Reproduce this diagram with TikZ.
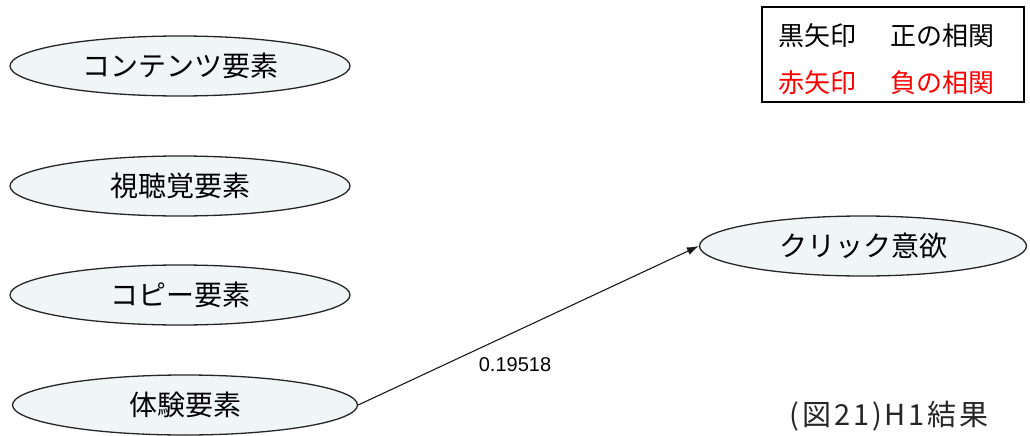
\documentclass[tikz,border=0pt]{standalone}
\usepackage{fontspec}
\setmainfont{Liberation Sans}
\newfontfamily\jpfont{Noto Sans CJK JP}
\newfontfamily\capfont[LetterSpace=10]{Noto Sans CJK JP}
\usetikzlibrary{shapes.geometric,arrows.meta}
\definecolor{ovalfill}{RGB}{239,246,245}
\definecolor{negred}{RGB}{255,0,0}
\begin{document}
\begin{tikzpicture}[x=1pt,y=-1pt,
  factor/.style={ellipse, draw=black!85, line width=1.3pt, fill=ovalfill,
    minimum width=340pt, minimum height=60pt, inner sep=0pt,
    font=\jpfont\fontsize{28}{28}\selectfont},
  path/.style={draw=black!90, line width=1.1pt, -{Latex[length=12pt,width=8pt]}},
  coef/.style={font=\fontsize{20}{20}\selectfont},
  legendtext/.style={anchor=west, inner sep=0pt, font=\jpfont\fontsize{26}{26}\selectfont}]
\useasboundingbox (0,0) rectangle (1030,436);

% latent factors
\node[factor] (content) at (180,66) {コンテンツ要素};
\node[factor] (av)      at (180,186) {視聴覚要素};
\node[factor] (copy)    at (180,295) {コピー要素};
\node[factor, minimum width=345pt] (exp) at (185,405) {体験要素};
\node[factor, minimum width=327pt] (click) at (863,246) {クリック意欲};

% significant path
\draw[path] (exp.east) -- (click.west);
\node[coef] (coefval) at (515,365) {0.19518};

% legend
\node[draw, line width=1.6pt, minimum width=262pt, minimum height=95pt,
  inner sep=0pt] (legend) at (893,54.5) {};
\node[legendtext] (posA) at (778,36) {黒矢印};
\node[legendtext] (posB) at (890,36) {正の相関};
\node[legendtext, text=negred] (negA) at (778,83) {赤矢印};
\node[legendtext, text=negred] (negB) at (890,83) {負の相関};

% caption
\node[font=\capfont\fontsize{29}{29}\selectfont, text=black!85] (caption) at (889,416) {(図21)H1結果};
\end{tikzpicture}
\end{document}
